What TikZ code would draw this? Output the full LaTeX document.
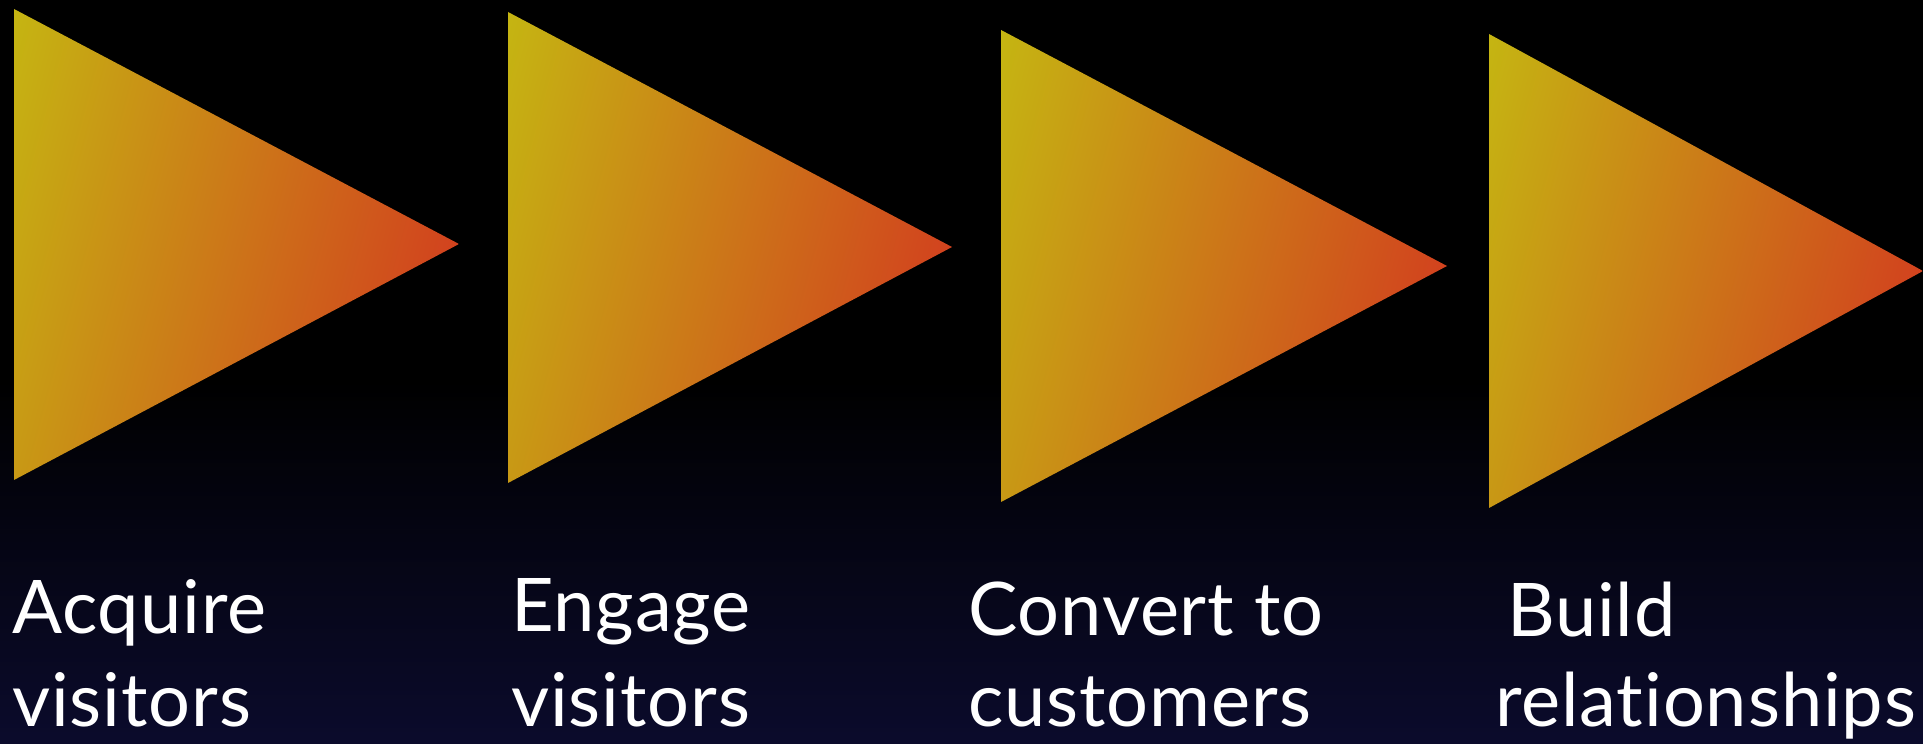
\documentclass[tikz,border=0pt]{standalone}
\usepackage{fontspec}
\setmainfont{Lato}[RawFeature={-liga;-dlig}, LetterSpace=1.2]
\definecolor{triY}{RGB}{197,181,18}
\definecolor{triR}{RGB}{210,66,30}
\definecolor{navybg}{RGB}{11,11,44}
\pgfdeclarehorizontalshading{trishade}{100bp}{color(0bp)=(triY); color(25bp)=(triY); color(75bp)=(triR); color(100bp)=(triR)}
\newcommand{\gradtri}[6]{%
  \begin{scope}
    \clip (#1,#2) -- (#1,#3) -- (#4,#5) -- cycle;
    \begin{scope}[transform canvas={shift={(#1,#2)},rotate=-15}]
      \shade[shading=trishade] (0,-800) rectangle (#6,300);
    \end{scope}
  \end{scope}}
\tikzset{lbl/.style={anchor=base west, inner sep=0pt, text=white, font=\fontsize{74}{88}\selectfont}}
\begin{document}
\begin{tikzpicture}[x=1pt,y=1pt]
\useasboundingbox (0,0) rectangle (1923,744);
\fill[black] (0,0) rectangle (1923,744);
\shade[top color=black, bottom color=navybg] (0,0) rectangle (1923,364);
% triangles
\gradtri{14}{735}{264}{459}{500}{490}
\gradtri{508}{732}{261}{952}{497}{490}
\gradtri{1001}{714}{242}{1447}{478}{492}
\gradtri{1489}{710}{236}{1923}{473}{481}
% labels
\node[lbl] (t1a) at (12,110) {Acquire};
\node[lbl] (t1b) at (12,17) {visitors};
\node[lbl] (t2a) at (511,112) {Engage};
\node[lbl] (t2b) at (511,17) {visitors};
\node[lbl] (t3a) at (968,108) {Convert to};
\node[lbl] (t3b) at (968,17) {customers};
\node[lbl] (t4a) at (1507,107) {Build};
\node[lbl] (t4b) at (1495,17) {relationships};
\end{tikzpicture}
\end{document}
